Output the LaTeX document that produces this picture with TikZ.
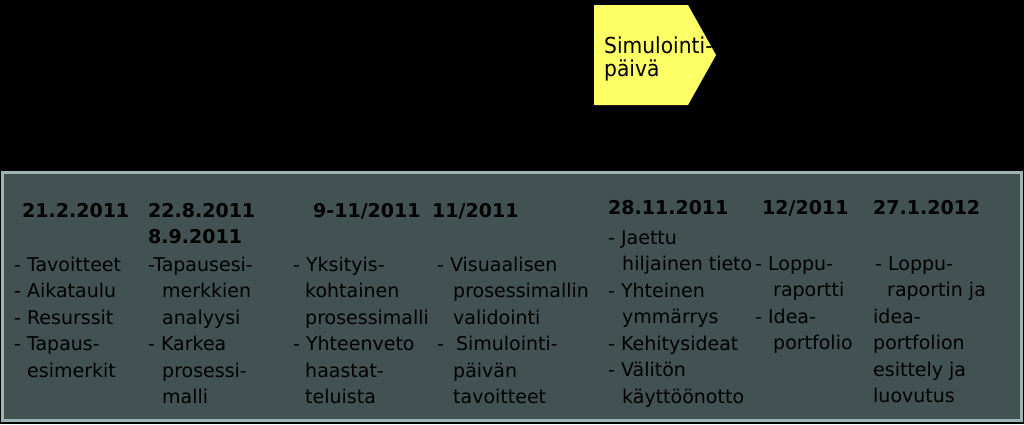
\documentclass[tikz,border=0pt]{standalone}
\usepackage{fontspec}
\setmainfont{DejaVu Sans}
\newfontfamily\tahoma{DejaVu Sans}
\newfontfamily\simfont{DejaVu Sans}[FakeStretch=0.92]
\usepackage{tikz}
\definecolor{simyellow}{HTML}{FFFF66}
\definecolor{boxfill}{HTML}{425151}
\definecolor{boxline}{HTML}{9CB4B4}

\begin{document}
\begin{tikzpicture}[x=1pt, y=-1pt,
  date/.style = {anchor = base west, inner sep = 0, align = left, font = \bfseries\fontsize{19}{26}\selectfont},
  items/.style = {anchor = base west, inner sep = 0, align = left, font = \tahoma\fontsize{19}{26.5}\selectfont}]
\fill[black] (0,0) rectangle (1024,424);
\useasboundingbox (0,0) rectangle (1024,424);
% simulointipaiva (base = last line)
\fill[simyellow] (594,5)--(688,5)--(716,55)--(688,105)--(594,105)--cycle;
\node[anchor = base west, inner sep = 0, align = left, font = \simfont\fontsize{22}{23}\selectfont] (sim) at (604,76) {Simulointi-\\päivä};
% aikajana
\draw[line width = 3pt, draw = boxline, fill = boxfill] (2.5,172) rectangle (1021.5,420.5);
\node[date] (d1) at (22,217) {21.2.2011};
\node[date] (d2) at (148,243) {22.8.2011\\8.9.2011};
\node[date] (d3) at (313,217) {9-11/2011};
\node[date] (d4) at (432,217) {11/2011};
\node[date] (d5) at (608,214) {28.11.2011};
\node[date] (d6) at (762,214) {12/2011};
\node[date] (d7) at (873,214) {27.1.2012};
\node[items] (l1) at (14,377) {- Tavoitteet\\- Aikataulu\\- Resurssit\\- Tapaus-\\\hspace*{13pt}esimerkit};
\node[items] (l2) at (148,403.5) {-Tapausesi-\\\hspace*{14pt}merkkien\\\hspace*{14pt}analyysi\\- Karkea\\\hspace*{14pt}prosessi-\\\hspace*{14pt}malli};
\node[items] (l3) at (293,403.5) {- Yksityis-\\\hspace*{12pt}kohtainen\\\hspace*{12pt}prosessimalli\\- Yhteenveto\\\hspace*{12pt}haastat-\\\hspace*{12pt}teluista};
\node[items] (l4) at (437,403.5) {- Visuaalisen\\\hspace*{16pt}prosessimallin\\\hspace*{16pt}validointi\\-\hspace*{12pt}Simulointi-\\\hspace*{16pt}päivän\\\hspace*{16pt}tavoitteet};
\node[items] (l5) at (608,403) {- Jaettu\\\hspace*{14pt}hiljainen tieto\\- Yhteinen\\\hspace*{14pt}ymmärrys\\- Kehitysideat\\- Välitön\\\hspace*{14pt}käyttöönotto};
\node[items] (l6) at (755,349.5) {- Loppu-\\\hspace*{18pt}raportti\\- Idea-\\\hspace*{18pt}portfolio};
\node[items] (l7) at (873,402.5) {\hspace*{2pt}- Loppu-\\\hspace*{14pt}raportin ja\\idea-\\portfolion\\esittely ja\\luovutus};
\end{tikzpicture}
\end{document}
